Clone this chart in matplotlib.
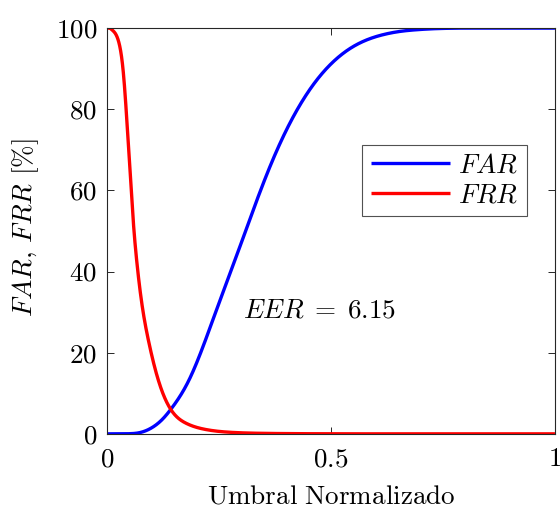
import matplotlib
matplotlib.use("Agg")
import matplotlib.pyplot as plt
import numpy as np

plt.rcParams['mathtext.fontset'] = 'cm'
plt.rcParams['font.family'] = 'serif'
plt.rcParams['font.serif'] = ['cmr10', 'DejaVu Serif']
plt.rcParams['axes.formatter.use_mathtext'] = True

far_x = [0.0, 0.03, 0.05, 0.071, 0.100, 0.123, 0.145, 0.182, 0.212, 0.246, 0.283, 0.320,
         0.357, 0.394, 0.431, 0.469, 0.506, 0.543, 0.580, 0.617, 0.655, 0.691,
         0.73, 0.77, 0.85, 1.0]
far_y = [0.0, 0.0, 0.03, 0.25, 1.5, 3.5, 6.4, 13.0, 20.8, 31.0, 42.0, 53.2,
         64.0, 73.4, 81.1, 87.3, 91.8, 95.0, 97.1, 98.4, 99.2, 99.6,
         99.85, 99.97, 100.0, 100.0]

frr_x = [0.0, 0.006, 0.011, 0.026, 0.037, 0.045, 0.052, 0.059, 0.067, 0.078, 0.093,
         0.108, 0.123, 0.145, 0.175, 0.219, 0.242, 0.28, 0.35, 0.45, 0.6, 1.0]
frr_y = [100.0, 100.0, 99.6, 96.7, 88.5, 76.2, 63.9, 52.0, 42.0, 32.0, 22.8,
         15.8, 10.5, 5.6, 2.7, 1.1, 0.7, 0.35, 0.12, 0.03, 0.0, 0.0]

eer_value = 6.15


def spline(xs, ys, xx):
    # natural cubic spline through the read points
    xs = np.asarray(xs, float); ys = np.asarray(ys, float)
    n = len(xs); h = np.diff(xs)
    A = np.zeros((n, n)); b = np.zeros(n)
    A[0, 0] = 1; A[-1, -1] = 1
    for i in range(1, n - 1):
        A[i, i-1] = h[i-1]; A[i, i] = 2*(h[i-1] + h[i]); A[i, i+1] = h[i]
        b[i] = 6*((ys[i+1]-ys[i])/h[i] - (ys[i]-ys[i-1])/h[i-1])
    M = np.linalg.solve(A, b)
    idx = np.clip(np.searchsorted(xs, xx, side='right') - 1, 0, n - 2)
    x0 = xs[idx]; x1 = xs[idx+1]; hh = h[idx]
    y = (M[idx]*(x1-xx)**3/(6*hh) + M[idx+1]*(xx-x0)**3/(6*hh)
         + (ys[idx]/hh - M[idx]*hh/6)*(x1-xx) + (ys[idx+1]/hh - M[idx+1]*hh/6)*(xx-x0))
    return np.clip(y, 0, 100)


fig = plt.figure(figsize=(5.6, 5.11), dpi=100)
ax = fig.add_axes([0.191, 0.151, 0.800, 0.794])

xx = np.linspace(0, 1, 2001)
ax.plot(xx, spline(far_x, far_y, xx), color='#0000ff', lw=2.4, label=r'$FAR$',
        solid_capstyle='butt')
ax.plot(xx, spline(frr_x, frr_y, xx), color='#ff0000', lw=2.4, label=r'$FRR$',
        solid_capstyle='butt')

ax.set_xlim(0, 1)
ax.set_ylim(0, 100)
ax.set_xticks([0, 0.5, 1])
ax.set_xticklabels([r'$0$', r'$0.5$', r'$1$'])
ax.set_yticks([0, 20, 40, 60, 80, 100])
ax.set_yticklabels([r'$0$', r'$20$', r'$40$', r'$60$', r'$80$', r'$100$'])
ax.tick_params(direction='in', top=True, right=True, labelsize=19.5, length=5,
               width=0.7, color='#262626')
ax.tick_params(axis='x', pad=10)
ax.tick_params(axis='y', pad=7)
for s in ax.spines.values():
    s.set_linewidth(0.8)
    s.set_color('#262626')

ax.set_xlabel(r'$\mathrm{Umbral\ Normalizado}$', fontsize=19.5, labelpad=9.5)
ax.set_ylabel(r'$FAR$, $FRR$ [%]', fontsize=19.5)
ax.yaxis.set_label_coords(-0.148, 0.508)

ax.text(0.304, 30.3, r'$EER\;=\;%.2f$' % eer_value, fontsize=19.5, va='center', ha='left')

leg = ax.legend(loc='upper left', bbox_to_anchor=(0.570, 0.7125), fontsize=19.5,
                frameon=True, fancybox=False, edgecolor='#262626',
                handlelength=2.9, handletextpad=0.3, borderpad=0.32,
                labelspacing=0.22, borderaxespad=0)
leg.get_frame().set_linewidth(0.8)

fig.savefig('out.png', dpi=100)
